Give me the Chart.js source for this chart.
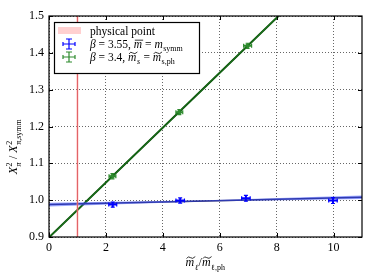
<!DOCTYPE html>
<html>
<head>
<meta charset="utf-8">
<script src="https://cdn.jsdelivr.net/npm/chart.js@4.4.0/dist/chart.umd.min.js"></script>
<style>
  html, body { margin: 0; padding: 0; background: #fff; }
  #wrap { width: 374px; height: 280px; }
</style>
</head>
<body>
<div id="wrap"><canvas id="chart"></canvas></div>
<script>
// data
const xTicks = [0, 2, 4, 6, 8, 10];
const yTicks = [0.9, 1.0, 1.1, 1.2, 1.3, 1.4, 1.5];

const blueX = [2.24, 4.61, 6.92, 9.98];
const blueY = [0.988, 0.999, 1.005, 0.999];
const blueXErr = [0.14, 0.15, 0.15, 0.15];
const blueYErr = [0.007, 0.007, 0.008, 0.008];

const greenX = [2.23, 4.58, 6.98];
const greenY = [1.065, 1.239, 1.419];
const greenXErr = [0.12, 0.12, 0.14];
const greenYErr = [0.007, 0.007, 0.007];

// fit lines and bands
const fitX = [0, 5.5, 11];
const blueFit = [0.988, 0.998, 1.008];
const blueLow = [0.983, 0.9963, 1.003];
const blueHigh = [0.993, 0.9997, 1.013];
const greenFit = [0.899, 1.3088, 1.7185];
const greenLow = [0.897, 1.3075, 1.7155];
const greenHigh = [0.901, 1.3101, 1.7215];

const physX = 1.0;
const physBand = [0.96, 1.04];

const SERIF = '"Liberation Serif", "DejaVu Serif", serif';
const pts = (xs, ys) => xs.map((x, i) => ({ x: x, y: ys[i] }));

// text runs with italics, sub/superscripts and accents
function fontFor(r, size) {
    return (r.it ? 'italic ' : '') + size + 'px ' + SERIF;
}
function measureRun(ctx, r, size) {
    let w = 0;
    if (r.t) {
        ctx.font = fontFor(r, size);
        w = ctx.measureText(r.t).width;
    }
    let sw = 0;
    ['sub', 'sup'].forEach(k => {
        if (r[k]) {
            ctx.font = (r[k + 'It'] ? 'italic ' : '') + Math.round(size * 0.7) + 'px ' + SERIF;
            sw = Math.max(sw, ctx.measureText(r[k]).width);
        }
    });
    return w + sw + (sw ? 1 : 0);
}
function runWidth(ctx, runs, size) {
    let w = 0;
    runs.forEach(r => { w += measureRun(ctx, r, size); });
    return w;
}
function drawRuns(ctx, runs, x, y, size, color) {
    ctx.save();
    ctx.fillStyle = color;
    ctx.strokeStyle = color;
    ctx.textBaseline = 'alphabetic';
    ctx.textAlign = 'left';
    let cx = x;
    runs.forEach(r => {
        let w = 0;
        if (r.t) {
            ctx.font = fontFor(r, size);
            w = ctx.measureText(r.t).width;
            ctx.fillText(r.t, cx, y);
            if (r.acc === 'bar') {
                ctx.lineWidth = 0.8;
                ctx.beginPath();
                ctx.moveTo(cx + 1, y - size * 0.68);
                ctx.lineTo(cx + w + 1, y - size * 0.68);
                ctx.stroke();
            } else if (r.acc === 'tilde') {
                ctx.lineWidth = 0.8;
                const ty = y - size * 0.7;
                ctx.beginPath();
                ctx.moveTo(cx + 1, ty + 1);
                ctx.quadraticCurveTo(cx + w * 0.3, ty - 2, cx + w * 0.55, ty);
                ctx.quadraticCurveTo(cx + w * 0.8, ty + 2, cx + w + 1, ty - 1);
                ctx.stroke();
            }
        }
        cx += w;
        let sw = 0;
        const small = Math.round(size * 0.7);
        if (r.sup) {
            ctx.font = (r.supIt ? 'italic ' : '') + small + 'px ' + SERIF;
            ctx.fillText(r.sup, cx + 0.5, y - size * 0.45);
            sw = Math.max(sw, ctx.measureText(r.sup).width);
        }
        if (r.sub) {
            ctx.font = (r.subIt ? 'italic ' : '') + small + 'px ' + SERIF;
            ctx.fillText(r.sub, cx + 0.5, y + size * 0.3);
            sw = Math.max(sw, ctx.measureText(r.sub).width);
        }
        cx += sw + (sw ? 1 : 0);
    });
    ctx.restore();
}

const yTitle = [
    { t: 'X', it: true, sup: '2', sub: 'π', subIt: true },
    { t: ' / ' },
    { t: 'X', it: true, sup: '2', sub: 'π,symm' }
];
const xTitle = [
    { t: 'm', it: true, acc: 'tilde', sub: 'ℓ', subIt: true },
    { t: '/' },
    { t: 'm', it: true, acc: 'tilde', sub: 'ℓ,ph' }
];
const legendRows = [
    [{ t: 'physical point' }],
    [{ t: 'β', it: true }, { t: ' = 3.55, ' }, { t: 'm', it: true, acc: 'bar' }, { t: ' = ' }, { t: 'm', it: true, sub: 'symm' }],
    [{ t: 'β', it: true }, { t: ' = 3.4, ' }, { t: 'm', it: true, acc: 'tilde', sub: 's', subIt: true }, { t: ' = ' }, { t: 'm', it: true, acc: 'tilde', sub: 's,ph' }]
];

const errorBars = {
    id: 'errorBars',
    afterDatasetsDraw(chart) {
        const ctx = chart.ctx;
        const xs = chart.scales.x, ys = chart.scales.y;
        chart.data.datasets.forEach(ds => {
            if (!ds.xErr) return;
            ctx.save();
            ctx.strokeStyle = ds.borderColor;
            ds.data.forEach((p, i) => {
                const px = xs.getPixelForValue(p.x), py = ys.getPixelForValue(p.y);
                const x0 = xs.getPixelForValue(p.x - ds.xErr[i]), x1 = xs.getPixelForValue(p.x + ds.xErr[i]);
                const y0 = ys.getPixelForValue(p.y - ds.yErr[i]), y1 = ys.getPixelForValue(p.y + ds.yErr[i]);
                ctx.lineWidth = 2;
                ctx.beginPath();
                ctx.moveTo(x0, py); ctx.lineTo(x1, py);
                ctx.moveTo(px, y0); ctx.lineTo(px, y1);
                ctx.stroke();
                ctx.lineWidth = 1.2;
                ctx.beginPath();
                ctx.moveTo(px - 2, y0); ctx.lineTo(px + 2, y0);
                ctx.moveTo(px - 2, y1); ctx.lineTo(px + 2, y1);
                ctx.moveTo(x0, py - 2); ctx.lineTo(x0, py + 2);
                ctx.moveTo(x1, py - 2); ctx.lineTo(x1, py + 2);
                ctx.stroke();
            });
            ctx.restore();
        });
    }
};

const frame = {
    id: 'frame',
    afterDraw(chart) {
        const ctx = chart.ctx;
        const a = chart.chartArea;
        const xs = chart.scales.x, ys = chart.scales.y;
        ctx.save();
        ctx.strokeStyle = '#000';
        ctx.lineWidth = 1;
        ctx.beginPath();
        xTicks.forEach(v => {
            const px = Math.round(xs.getPixelForValue(v)) + 0.5;
            ctx.moveTo(px, a.bottom); ctx.lineTo(px, a.bottom - 4);
            ctx.moveTo(px, a.top); ctx.lineTo(px, a.top + 4);
        });
        yTicks.forEach(v => {
            const py = Math.round(ys.getPixelForValue(v)) + 0.5;
            ctx.moveTo(a.left, py); ctx.lineTo(a.left + 4, py);
            ctx.moveTo(a.right, py); ctx.lineTo(a.right - 4, py);
        });
        ctx.stroke();
        ctx.lineWidth = 1.2;
        ctx.strokeRect(a.left, a.top, a.right - a.left, a.bottom - a.top);

        // legend
        const lx = 54, ly = 22, lw = 145, lh = 51;
        ctx.fillStyle = '#fff';
        ctx.fillRect(lx, ly, lw, lh);
        ctx.lineWidth = 1.2;
        ctx.strokeStyle = '#000';
        ctx.strokeRect(lx + 0.5, ly + 0.5, lw, lh);
        ctx.fillStyle = 'rgba(255,150,150,0.45)';
        ctx.fillRect(58, 27, 23, 7);
        [['#0000ff', 44], ['#2e8b2e', 57]].forEach(([c, y]) => {
            ctx.strokeStyle = c;
            ctx.lineWidth = 1.2;
            ctx.beginPath();
            ctx.moveTo(63, y); ctx.lineTo(75, y);
            ctx.moveTo(69, y - 5); ctx.lineTo(69, y + 5);
            ctx.moveTo(66, y - 5); ctx.lineTo(72, y - 5);
            ctx.moveTo(66, y + 5); ctx.lineTo(72, y + 5);
            ctx.moveTo(63, y - 2); ctx.lineTo(63, y + 2);
            ctx.moveTo(75, y - 2); ctx.lineTo(75, y + 2);
            ctx.stroke();
        });
        drawRuns(ctx, legendRows[0], 90, 35, 11.5, '#000');
        drawRuns(ctx, legendRows[1], 90, 48, 11.5, '#000');
        drawRuns(ctx, legendRows[2], 90, 61, 11.5, '#000');

        // axis titles
        const xw = runWidth(ctx, xTitle, 12);
        drawRuns(ctx, xTitle, (a.left + a.right) / 2 - xw / 2, 266, 12, '#000');
        const yw = runWidth(ctx, yTitle, 12);
        ctx.save();
        ctx.translate(17, (a.top + a.bottom) / 2 + 20);
        ctx.rotate(-Math.PI / 2);
        drawRuns(ctx, yTitle, -yw / 2, 0, 12, '#000');
        ctx.restore();
        ctx.restore();
    }
};

new Chart(document.getElementById('chart'), {
    type: 'scatter',
    data: {
        datasets: [
            {
                data: [{ x: physBand[0], y: 0.8 }, { x: physBand[0], y: 1.6 }, { x: physBand[1], y: 1.6 }, { x: physBand[1], y: 0.8 }],
                showLine: true, fill: 'shape', borderWidth: 0,
                backgroundColor: 'rgba(255,150,150,0.45)', borderColor: 'rgba(0,0,0,0)', pointRadius: 0
            },
            {
                data: [{ x: physX, y: 0.8 }, { x: physX, y: 1.6 }],
                showLine: true, borderColor: '#c8343a', borderWidth: 1, pointRadius: 0
            },
            {
                data: pts(fitX, blueLow), showLine: true, borderWidth: 0,
                borderColor: 'rgba(0,0,0,0)', pointRadius: 0, fill: false
            },
            {
                data: pts(fitX, blueHigh), showLine: true, borderWidth: 0,
                borderColor: 'rgba(0,0,0,0)', pointRadius: 0,
                fill: '-1', backgroundColor: 'rgba(70,90,255,0.55)'
            },
            {
                data: pts(fitX, blueFit), showLine: true, borderColor: '#141450',
                borderWidth: 1.5, pointRadius: 0
            },
            {
                data: pts(fitX, greenLow), showLine: true, borderWidth: 0,
                borderColor: 'rgba(0,0,0,0)', pointRadius: 0, fill: false
            },
            {
                data: pts(fitX, greenHigh), showLine: true, borderWidth: 0,
                borderColor: 'rgba(0,0,0,0)', pointRadius: 0,
                fill: '-1', backgroundColor: 'rgba(60,160,60,0.5)'
            },
            {
                data: pts(fitX, greenFit), showLine: true, borderColor: '#004a00',
                borderWidth: 2, pointRadius: 0
            },
            {
                data: pts(blueX, blueY), xErr: blueXErr, yErr: blueYErr,
                borderColor: '#0000ff', backgroundColor: '#0000ff', pointRadius: 0
            },
            {
                data: pts(greenX, greenY), xErr: greenXErr, yErr: greenYErr,
                borderColor: '#2e8b2e', backgroundColor: '#2e8b2e', pointRadius: 2,
                pointStyle: 'rect'
            }
        ]
    },
    options: {
        responsive: true,
        maintainAspectRatio: false,
        animation: false,
        layout: { padding: { left: 0, top: 16, right: 12, bottom: 0 } },
        plugins: { legend: { display: false }, tooltip: { enabled: false } },
        scales: {
            x: {
                type: 'linear', min: 0, max: 11,
                afterBuildTicks: s => { s.ticks = xTicks.map(v => ({ value: v })); },
                afterFit: s => { s.height = 43; },
                grid: { color: '#000', lineWidth: 0.6, drawTicks: false },
                border: { display: false, dash: [1, 2] },
                ticks: { color: '#000', padding: 4, font: { family: SERIF, size: 12 }, maxRotation: 0 }
            },
            y: {
                type: 'linear', min: 0.9, max: 1.5,
                afterBuildTicks: s => { s.ticks = yTicks.map(v => ({ value: v })); },
                afterFit: s => { s.width = 49; },
                grid: { color: '#000', lineWidth: 0.6, drawTicks: false },
                border: { display: false, dash: [1, 2] },
                ticks: { color: '#000', padding: 5, font: { family: SERIF, size: 12 },
                    callback: v => v.toFixed(1) }
            }
        }
    },
    plugins: [errorBars, frame]
});
</script>
</body>
</html>
